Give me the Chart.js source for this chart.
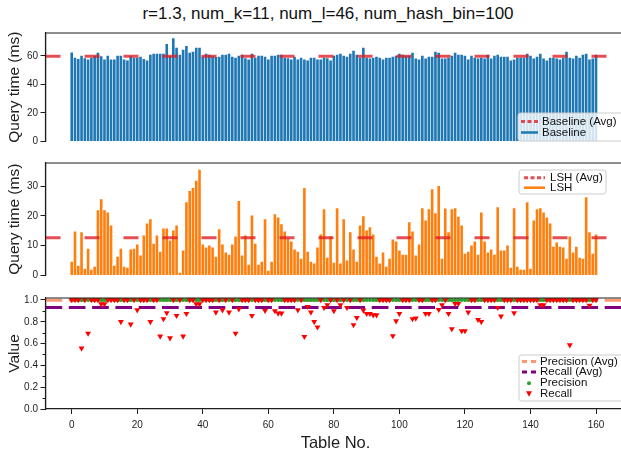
<!DOCTYPE html>
<html>
<head>
<meta charset="utf-8">
<script src="https://cdn.jsdelivr.net/npm/chart.js@4.4.0/dist/chart.umd.min.js"></script>
<style>
  html, body { margin: 0; padding: 0; background: #fff; width: 621px; height: 457px; overflow: hidden; }
  #wrap { position: relative; width: 621px; height: 457px; }
  canvas { position: absolute; left: 0; }
  #title { position: absolute; top: 4px; left: 0; width: 656px; line-height: 20px; text-align: center;
           font: 17px "Liberation Sans", Arial, sans-serif; color: #111; }
</style>
</head>
<body>
<div id="wrap">
  <div id="title">r=1.3, num_k=11, num_l=46, num_hash_bin=100</div>
  <canvas id="c1" width="630" height="150" style="top:0px"></canvas>
  <canvas id="c2" width="630" height="134" style="top:150px"></canvas>
  <canvas id="c3" width="630" height="173" style="top:284px"></canvas>
</div>
<script>
// --- DATA ---
const tableNo = Array.from({ length: 161 }, (_, i) => i);

const baselineMs = [
  62.5, 58.8, 57.9, 60.2, 58.4, 57.5, 58.8, 60.2, 62.3, 59.8,
  57.5, 60.2, 57.5, 57.5, 60.2, 60.2, 57.5, 56.8, 59.8, 58.8,
  58.8, 59.5, 57.9, 56.8, 60.9, 61.6, 61.6, 61.6, 61.6, 68.4,
  59.8, 72.5, 65.7, 60.9, 64.3, 67.0, 62.3, 63.0, 65.7, 65.7,
  59.5, 61.6, 60.9, 59.8, 59.2, 59.5, 60.9, 60.9, 61.6, 59.5,
  58.8, 60.2, 60.9, 58.4, 57.5, 61.6, 58.8, 60.2, 60.2, 59.5,
  57.5, 60.2, 60.2, 60.9, 60.9, 58.8, 58.4, 57.5, 59.5, 57.5,
  58.8, 57.5, 56.8, 58.8, 58.8, 57.5, 57.5, 58.8, 58.4, 56.8,
  60.2, 60.9, 61.6, 60.2, 59.5, 61.6, 63.6, 60.9, 58.8, 65.7,
  58.8, 58.2, 58.8, 59.5, 58.8, 57.5, 58.8, 58.8, 59.5, 60.2,
  61.6, 60.9, 60.2, 60.2, 62.3, 58.2, 57.5, 60.2, 58.2, 59.5,
  59.5, 63.0, 62.3, 58.2, 58.2, 58.8, 60.2, 62.3, 60.9, 60.9,
  60.2, 57.5, 60.2, 58.8, 58.2, 58.8, 58.2, 60.9, 58.2, 60.2,
  60.9, 59.5, 59.5, 59.5, 56.8, 57.5, 58.8, 58.8, 58.8, 61.6,
  60.2, 58.2, 59.5, 61.6, 58.2, 56.8, 58.8, 58.8, 58.2, 57.5,
  58.8, 63.0, 58.8, 58.2, 60.2, 58.8, 60.9, 61.6, 57.5, 58.2,
  60.9
];

const lshMs = [
  4.6, 14.8, 3.3, 14.5, 2.3, 9.0, 1.9, 2.9, 21.9, 25.6,
  21.9, 21.2, 16.8, 3.3, 6.3, 9.0, 2.9, 2.6, 8.7, 9.0,
  10.4, 6.7, 13.4, 17.5, 18.9, 10.7, 13.4, 8.0, 15.8, 15.8,
  11.8, 15.1, 16.8, 0.9, 8.4, 24.6, 28.4, 29.4, 31.8, 35.5,
  10.4, 9.4, 10.1, 9.4, 6.3, 15.5, 10.4, 7.7, 7.0, 10.4,
  13.1, 25.0, 6.7, 13.4, 3.6, 20.2, 10.7, 3.6, 4.6, 18.9,
  1.6, 4.6, 20.6, 19.5, 17.2, 14.8, 12.4, 11.4, 8.7, 8.0,
  5.6, 29.4, 8.0, 4.6, 4.0, 9.4, 13.8, 22.3, 6.0, 13.1,
  4.3, 22.6, 4.0, 18.9, 5.0, 14.5, 8.7, 4.6, 16.8, 19.9,
  15.1, 16.2, 13.8, 6.3, 4.0, 7.7, 2.9, 5.6, 12.1, 11.4,
  8.4, 7.0, 7.0, 17.9, 14.8, 6.7, 10.4, 22.6, 18.5, 22.3,
  29.0, 20.9, 30.1, 5.6, 22.5, 14.5, 22.3, 22.6, 19.7, 16.8,
  7.3, 8.0, 10.1, 11.4, 7.0, 21.2, 11.4, 7.7, 8.7, 7.0,
  22.9, 8.4, 8.4, 10.1, 2.6, 22.6, 2.9, 1.9, 1.9, 24.6,
  2.3, 18.5, 22.3, 22.6, 21.2, 19.5, 17.5, 9.7, 11.1, 9.7,
  9.4, 5.6, 13.1, 7.7, 9.7, 6.0, 5.6, 26.3, 14.5, 7.3,
  13.8
];

const precision = [
  1.0, 1.0, 1.0, 1.0, 1.0, 1.0, 1.0, 1.0, 1.0, 1.0,
  1.0, 1.0, 1.0, 1.0, 1.0, 1.0, 1.0, 1.0, 1.0, 1.0,
  1.0, 1.0, 1.0, 1.0, 1.0, 1.0, 1.0, 1.0, 1.0, 1.0,
  1.0, 1.0, 1.0, 1.0, 1.0, 1.0, 1.0, 1.0, 1.0, 1.0,
  1.0, 1.0, 1.0, 1.0, 1.0, 1.0, 1.0, 1.0, 1.0, 1.0,
  1.0, 1.0, 1.0, 1.0, 1.0, 1.0, 1.0, 1.0, 1.0, 1.0,
  1.0, 1.0, 1.0, 1.0, 1.0, 1.0, 1.0, 1.0, 1.0, 1.0,
  1.0, 1.0, 1.0, 1.0, 1.0, 1.0, 1.0, 1.0, 1.0, 1.0,
  1.0, 1.0, 1.0, 1.0, 1.0, 1.0, 1.0, 1.0, 1.0, 1.0,
  1.0, 1.0, 1.0, 1.0, 1.0, 1.0, 1.0, 1.0, 1.0, 1.0,
  1.0, 1.0, 1.0, 1.0, 1.0, 1.0, 1.0, 1.0, 1.0, 1.0,
  1.0, 1.0, 1.0, 1.0, 1.0, 1.0, 1.0, 1.0, 1.0, 1.0,
  1.0, 1.0, 1.0, 1.0, 1.0, 1.0, 1.0, 1.0, 1.0, 1.0,
  1.0, 1.0, 1.0, 1.0, 1.0, 1.0, 1.0, 1.0, 1.0, 1.0,
  1.0, 1.0, 1.0, 1.0, 1.0, 1.0, 1.0, 1.0, 1.0, 1.0,
  1.0, 1.0, 1.0, 1.0, 1.0, 1.0, 1.0, 1.0, 1.0, 1.0,
  1.0
];

const recall = [
  1.0, 1.0, 1.0, 0.557, 1.0, 0.694, 1.0, 1.0, 1.0, 0.963,
  0.963, 1.0, 1.0, 1.0, 1.0, 0.80, 1.0, 1.0, 0.777, 1.0,
  0.908, 1.0, 1.0, 1.0, 0.80, 1.0, 1.0, 0.667, 0.826, 0.881,
  0.651, 1.0, 0.856, 1.0, 0.667, 0.875, 1.0, 1.0, 0.963, 0.963,
  1.0, 1.0, 1.0, 1.0, 0.887, 1.0, 0.908, 1.0, 0.887, 1.0,
  0.694, 0.917, 1.0, 1.0, 1.0, 0.856, 1.0, 1.0, 1.0, 0.902,
  1.0, 1.0, 0.90, 0.878, 0.878, 1.0, 1.0, 1.0, 1.0, 0.908,
  1.0, 0.664, 0.939, 0.887, 0.80, 0.75, 1.0, 0.93, 0.955, 1.0,
  0.90, 1.0, 0.955, 1.0, 0.93, 1.0, 0.771, 0.838, 1.0, 0.905,
  0.875, 0.875, 0.862, 0.862, 1.0, 1.0, 1.0, 1.0, 0.67, 0.807,
  0.875, 1.0, 1.0, 1.0, 0.826, 0.832, 1.0, 1.0, 0.875, 0.875,
  1.0, 1.0, 0.911, 0.955, 1.0, 0.875, 0.734, 0.966, 0.966, 0.716,
  0.716, 0.887, 1.0, 1.0, 0.819, 0.80, 1.0, 1.0, 1.0, 1.0,
  0.93, 0.85, 1.0, 1.0, 1.0, 0.881, 1.0, 1.0, 1.0, 1.0,
  1.0, 1.0, 1.0, 0.955, 0.955, 1.0, 1.0, 1.0, 1.0, 1.0,
  1.0, 1.0, 0.587, 1.0, 1.0, 1.0, 1.0, 1.0, 0.95, 1.0,
  1.0
];

const baselineAvg = 59.8;
const lshAvg = 12.7;
const precisionAvg = 0.997;
const recallAvg = 0.93;

const xTicks = [0, 20, 40, 60, 80, 100, 120, 140, 160];
const baselineTicks = [0, 20, 40, 60];
const lshTicks = [0, 10, 20, 30];
const valueTicks = [0, 0.2, 0.4, 0.6, 0.8, 1.0];
const valueMinorTicks = [0.1, 0.3, 0.5, 0.7, 0.9];

// --- STYLE ---
const FONT = '"Liberation Sans", Arial, sans-serif';
const INK = '#1e1e1e';
const X_MIN = -8, X_MAX = 169;
const AXIS_W = 45.5;
const AVG_RED = 'rgba(222, 30, 36, 0.78)';

const pts = (ys) => tableNo.map((t, i) => ({ x: t, y: ys[i] }));
const hline = (y) => [{ x: X_MIN, y: y }, { x: X_MAX, y: y }];

const yScale = (title, max, ticks, fmt) => ({
    type: 'linear', min: 0, max: max,
    afterFit: s => { s.width = AXIS_W; },
    afterBuildTicks: s => { s.ticks = ticks.map(v => ({ value: v })); },
    border: { color: INK, width: 1.2 },
    grid: { drawOnChartArea: false, tickLength: 5, color: INK, tickWidth: 1 },
    ticks: { color: INK, font: { family: FONT, size: 10 }, padding: 2.5, callback: fmt },
    title: { display: true, text: title, color: INK, font: { family: FONT, size: 15.5 }, padding: { top: 5.5, bottom: 0 } }
});

const hiddenX = { type: 'linear', min: X_MIN, max: X_MAX, offset: false, display: false };

const baseOptions = (padding, scales) => ({
    responsive: false,
    animation: false,
    events: [],
    layout: { padding: padding },
    plugins: { legend: { display: false }, tooltip: { enabled: false } },
    scales: scales
});

// kotak di sekeliling area plot (spine atas & kanan)
const framePlugin = {
    id: 'frame',
    afterDraw(chart) {
        const { ctx, chartArea: a } = chart;
        ctx.save();
        ctx.strokeStyle = INK;
        ctx.lineWidth = 1.2;
        ctx.beginPath();
        ctx.moveTo(a.left, a.bottom);
        ctx.lineTo(a.left, a.top);
        ctx.lineTo(a.right, a.top);
        ctx.lineTo(a.right, a.bottom);
        ctx.stroke();
        ctx.restore();
    }
};

// minor tick di sumbu Value
const minorTickPlugin = {
    id: 'minorTicks',
    afterDraw(chart) {
        const { ctx, chartArea: a } = chart;
        const y = chart.scales.y;
        ctx.save();
        ctx.strokeStyle = INK;
        ctx.lineWidth = 1;
        valueMinorTicks.forEach(v => {
            const py = Math.round(y.getPixelForValue(v)) + 0.5;
            ctx.beginPath();
            ctx.moveTo(a.left - 3, py);
            ctx.lineTo(a.left, py);
            ctx.stroke();
        });
        ctx.restore();
    }
};

// legenda di dalam area plot, gaya matplotlib
const makeLegend = (cfg) => ({
    id: 'boxLegend',
    afterDraw(chart) {
        const ctx = chart.ctx;
        ctx.save();
        ctx.beginPath();
        ctx.roundRect(cfg.x, cfg.y, cfg.w, cfg.h, 2.5);
        ctx.fillStyle = 'rgba(255,255,255,0.8)';
        ctx.fill();
        ctx.strokeStyle = '#cccccc';
        ctx.lineWidth = 1;
        ctx.stroke();
        const [h0, h1] = cfg.handle;
        const hc = (h0 + h1) / 2;
        cfg.rows.forEach(r => {
            ctx.save();
            if (r.kind === 'line') {
                ctx.strokeStyle = r.color;
                ctx.lineWidth = r.width;
                ctx.setLineDash(r.dash || []);
                ctx.beginPath();
                ctx.moveTo(h0, r.y);
                ctx.lineTo(h1, r.y);
                ctx.stroke();
            } else if (r.kind === 'dot') {
                ctx.fillStyle = r.color;
                ctx.beginPath();
                ctx.arc(hc, r.y, 2, 0, Math.PI * 2);
                ctx.fill();
            } else if (r.kind === 'tri') {
                ctx.fillStyle = r.color;
                ctx.beginPath();
                ctx.moveTo(hc - 3, r.y - 2.5);
                ctx.lineTo(hc + 3, r.y - 2.5);
                ctx.lineTo(hc, r.y + 3);
                ctx.closePath();
                ctx.fill();
            }
            ctx.restore();
            ctx.font = `11.5px ${FONT}`;
            ctx.textBaseline = 'middle';
            ctx.fillStyle = '#111';
            ctx.fillText(r.label, cfg.textX, r.y);
        });
        ctx.restore();
    }
});

// --- CHART 1: Baseline ---
new Chart(document.getElementById('c1'), {
    type: 'bar',
    data: {
        datasets: [
            { type: 'line', label: 'Baseline (Avg)', data: hline(baselineAvg), borderColor: AVG_RED,
              borderWidth: 3, borderDash: [15, 24], pointRadius: 0, order: 1 },
            { type: 'bar', label: 'Baseline', data: pts(baselineMs), backgroundColor: '#1f77b4',
              barPercentage: 0.8, categoryPercentage: 1, grouped: false, order: 2 }
        ]
    },
    options: baseOptions({ top: 33, bottom: 6, left: 0, right: 4.5 }, {
        x: hiddenX,
        y: yScale('Query time (ms)', 76.1, baselineTicks, v => String(v))
    }),
    plugins: [framePlugin, makeLegend({
        x: 518, y: 113, w: 112, h: 28, handle: [521, 538], textX: 542,
        rows: [
            { kind: 'line', label: 'Baseline (Avg)', y: 121.5, color: AVG_RED, width: 3, dash: [4, 2.5] },
            { kind: 'line', label: 'Baseline', y: 132.5, color: '#1f77b4', width: 2.5 }
        ]
    })]
});

// --- CHART 2: LSH ---
new Chart(document.getElementById('c2'), {
    type: 'bar',
    data: {
        datasets: [
            { type: 'line', label: 'LSH (Avg)', data: hline(lshAvg), borderColor: AVG_RED,
              borderWidth: 3, borderDash: [15, 24], pointRadius: 0, order: 1 },
            { type: 'bar', label: 'LSH', data: pts(lshMs), backgroundColor: '#ff7f0e',
              barPercentage: 0.8, categoryPercentage: 1, grouped: false, order: 2 }
        ]
    },
    options: baseOptions({ top: 13, bottom: 7, left: 0, right: 4.5 }, {
        x: hiddenX,
        y: yScale('Query time (ms)', 37.8, lshTicks, v => String(v))
    }),
    plugins: [framePlugin, makeLegend({
        x: 519, y: 20, w: 87, h: 24, handle: [524, 545], textX: 550,
        rows: [
            { kind: 'line', label: 'LSH (Avg)', y: 27.7, color: AVG_RED, width: 3, dash: [4, 2.5] },
            { kind: 'line', label: 'LSH', y: 37.7, color: '#ff7f0e', width: 2.5 }
        ]
    })]
});

// --- CHART 3: Precision / Recall ---
const xScale = {
    type: 'linear', min: X_MIN, max: X_MAX, offset: false,
    afterFit: s => { s.height = 44; },
    afterBuildTicks: s => { s.ticks = xTicks.map(v => ({ value: v })); },
    border: { color: INK, width: 1.2 },
    grid: { drawOnChartArea: false, tickLength: 5, color: INK, tickWidth: 1 },
    ticks: { color: INK, font: { family: FONT, size: 10 }, padding: 5, maxRotation: 0, autoSkip: false },
    title: { display: true, text: 'Table No.', color: INK, font: { family: FONT, size: 16.5 }, padding: { top: 0, bottom: 0 } }
};

new Chart(document.getElementById('c3'), {
    type: 'scatter',
    data: {
        datasets: [
            { type: 'line', label: 'Precision (Avg)', data: hline(precisionAvg), showLine: true,
              borderColor: 'rgba(252, 140, 96, 0.9)', borderWidth: 3, borderDash: [16.7, 6.6], pointRadius: 0, order: 4 },
            { type: 'line', label: 'Recall (Avg)', data: hline(recallAvg), showLine: true,
              borderColor: '#800080', borderWidth: 3, borderDash: [16.7, 6.6], pointRadius: 0, order: 3 },
            { label: 'Precision', data: pts(precision), pointStyle: 'circle', pointRadius: 2,
              backgroundColor: '#2ca02c', borderWidth: 0, order: 2 },
            { label: 'Recall', data: pts(recall), pointStyle: 'triangle', rotation: 180, pointRadius: 3.4,
              backgroundColor: '#ff0000', borderWidth: 0, order: 1 }
        ]
    },
    options: baseOptions({ top: 14, bottom: 4, left: 0, right: 4.5 }, {
        x: xScale,
        y: yScale('Value', 1.018, valueTicks, v => v.toFixed(1))
    }),
    plugins: [framePlugin, minorTickPlugin, makeLegend({
        x: 519, y: 71, w: 112, h: 46, handle: [522, 536], textX: 540,
        rows: [
            { kind: 'line', label: 'Precision (Avg)', y: 77.5, color: 'rgba(252, 140, 96, 0.9)', width: 3, dash: [5, 4] },
            { kind: 'line', label: 'Recall (Avg)', y: 88, color: '#800080', width: 3, dash: [5, 4] },
            { kind: 'dot', label: 'Precision', y: 99.3, color: '#2ca02c' },
            { kind: 'tri', label: 'Recall', y: 109.7, color: '#ff0000' }
        ]
    })]
});
</script>
</body>
</html>
